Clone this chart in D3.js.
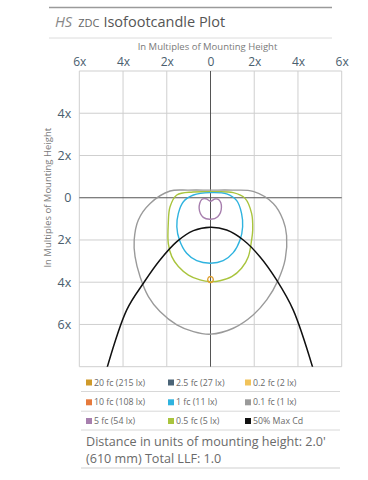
<!DOCTYPE html>
<html><head><meta charset="utf-8">
<script src="https://cdn.jsdelivr.net/npm/d3@7"></script>
<style>body{margin:0;background:#fff}svg{display:block}text{font-family:"Open Sans",sans-serif}</style>
</head><body>
<script>
// ---- data (multiples of mounting height; y negative = below fixture) ----
const xTicks = [-6,-4,-2,0,2,4,6];
const xTickLabels = ["6x","4x","2x","0","2x","4x","6x"];
const yTicks = [4,2,0,-2,-4,-6];
const yTickLabels = ["4x","2x","0","2x","4x","6x"];
const contour01 = [[0,0.36],[1.0,0.36],[1.95,0.3],[2.87,-0.27],[3.32,-1.05],[3.48,-1.8],[3.42,-2.9],[3.1,-3.89],[2.57,-4.84],[1.95,-5.55],[1.04,-6.18],[0,-6.46],[-0.78,-6.34],[-1.54,-6.02],[-2.31,-5.39],[-2.84,-4.68],[-3.22,-3.74],[-3.45,-2.79],[-3.49,-2.0],[-3.3,-1.05],[-2.76,-0.27],[-1.85,0.32],[-1.0,0.36]];
const contour05 = [[0,0.28],[1.04,0.24],[1.58,-0.03],[1.88,-0.74],[1.93,-1.53],[1.88,-2.0],[1.73,-2.79],[1.42,-3.34],[0.97,-3.74],[0.43,-3.93],[0,-3.97],[-0.48,-3.89],[-1.01,-3.66],[-1.47,-3.26],[-1.77,-2.79],[-1.93,-2.16],[-1.93,-1.21],[-1.85,-0.43],[-1.54,0.13],[-0.8,0.27]];
const contour1 = [[0,0.24],[0.74,0.18],[1.2,-0.14],[1.42,-0.74],[1.47,-1.37],[1.35,-2.0],[1.04,-2.6],[0.58,-2.98],[0,-3.1],[-0.63,-2.98],[-1.09,-2.63],[-1.42,-2.0],[-1.54,-1.37],[-1.47,-0.74],[-1.24,-0.19],[-0.78,0.13]];
const contour5 = [[0,-0.17],[0.2,-0.06],[0.38,-0.1],[0.5,-0.45],[0.33,-0.9],[0,-1.02],[-0.33,-0.93],[-0.52,-0.5],[-0.4,-0.08],[-0.2,-0.05]];
const contour10 = [[0,-3.73],[0.11,-3.8],[0.11,-3.95],[0,-4.02],[-0.11,-3.95],[-0.11,-3.8]];
const maxCd50 = [[-4.8,-8.3],[-3.83,-5.31],[-3.07,-4.05],[-2.31,-2.95],[-1.54,-2.08],[-0.78,-1.56],[0,-1.40],[0.74,-1.53],[1.5,-2.0],[2.26,-2.79],[3.02,-3.89],[3.78,-5.31],[4.75,-8.3]];
const legendLabels = ["20 fc (215 lx)","2.5 fc (27 lx)","0.2 fc (2 lx)","10 fc (108 lx)","1 fc (11 lx)","0.1 fc (1 lx)","5 fc (54 lx)","0.5 fc (5 lx)","50% Max Cd"];
const legendColors = ["#cf9a2a","#4b6477","#f1c35a","#e67a3c","#2fb3df","#9a9a9a","#a77fae","#a9c43d","#111111"];

const W=368,H=480;
const svg=d3.select("body").append("svg").attr("width",W).attr("height",H);

// header
svg.append("line").attr("x1",49).attr("x2",332).attr("y1",7.5).attr("y2",7.5).attr("stroke","#9a9a9a").attr("stroke-width",1.5);
svg.append("line").attr("x1",49).attr("x2",332).attr("y1",38).attr("y2",38).attr("stroke","#dcdcdc").attr("stroke-width",1);
const t=svg.append("text").attr("x",55).attr("y",26.5).attr("font-size",14.5).attr("fill","#666");
t.append("tspan").attr("font-style","italic").attr("fill","#888").text("HS");
t.append("tspan").attr("dx",6).attr("font-size",11).attr("fill","#666").text("ZDC");
t.append("tspan").attr("dx",4).attr("fill","#555").text("Isofootcandle Plot");

const x=d3.scaleLinear().domain([-6,6]).range([79.3,341.7]);
const y=d3.scaleLinear().domain([6,-8]).range([71,366.7]);

svg.append("text").attr("x",x(0)-3).attr("y",49.5).attr("text-anchor","middle").attr("font-size",9.5).attr("fill","#7a7a7a").text("In Multiples of Mounting Height");
svg.append("text").attr("transform",`translate(51,${y(0)}) rotate(-90)`).attr("text-anchor","middle").attr("font-size",9.5).attr("fill","#7a7a7a").text("In Multiples of Mounting Height");

const g=svg.append("g");
const gridX=d3.range(-6,7,2), gridY=d3.range(6,-9,-2);
g.selectAll(".gx").data(gridX.filter(d=>d!==0)).join("line").attr("x1",d=>x(d)).attr("x2",d=>x(d)).attr("y1",y(6)).attr("y2",y(-8)).attr("stroke","#cfcfcf");
g.selectAll(".gy").data(gridY.filter(d=>d!==0)).join("line").attr("y1",d=>y(d)).attr("y2",d=>y(d)).attr("x1",x(-6)).attr("x2",x(6)).attr("stroke","#cfcfcf");
g.append("line").attr("x1",x(0)).attr("x2",x(0)).attr("y1",y(6)).attr("y2",y(-8)).attr("stroke","#555").attr("stroke-width",1);
g.append("line").attr("y1",y(0)).attr("y2",y(0)).attr("x1",x(-6)).attr("x2",x(6)).attr("stroke","#555").attr("stroke-width",1.2);

// tick labels via axes
const ax=svg.append("g").attr("transform",`translate(0,${y(6)})`).call(d3.axisTop(x).tickValues(xTicks).tickFormat((d,i)=>xTickLabels[i]).tickSize(0).tickPadding(5));
ax.select(".domain").remove();
ax.selectAll("text").attr("font-size",12).attr("fill","#4a5e6e").attr("font-family","Open Sans");
const ay=svg.append("g").attr("transform",`translate(${x(-6)},0)`).call(d3.axisLeft(y).tickValues(yTicks).tickFormat((d,i)=>yTickLabels[i]).tickSize(0).tickPadding(8));
ay.select(".domain").remove();
ay.selectAll("text").attr("font-size",12.5).attr("fill","#4a5e6e").attr("font-family","Open Sans");

// contours
svg.append("clipPath").attr("id","clip").append("rect").attr("x",x(-6)).attr("y",y(6)).attr("width",x(6)-x(-6)).attr("height",y(-8)-y(6));
const pg=svg.append("g").attr("clip-path","url(#clip)");
const closed=d3.line().x(d=>x(d[0])).y(d=>y(d[1])).curve(d3.curveCatmullRomClosed.alpha(0.5));
const open=d3.line().x(d=>x(d[0])).y(d=>y(d[1])).curve(d3.curveCatmullRom.alpha(0.5));
[[contour01,"#9a9a9a"],[contour05,"#a9c43d"],[contour1,"#2fb3df"],[contour5,"#a77fae"],[contour10,"#e0a030"]].forEach(([d,c])=>{
  pg.append("path").attr("d",closed(d)).attr("fill","none").attr("stroke",c).attr("stroke-width",1.4);
});
pg.append("path").attr("d",open(maxCd50)).attr("fill","none").attr("stroke","#111").attr("stroke-width",1.5);

// legend
const colX=[86,168,245], rowY=[382.5,402.3,421];
[391.5,411.2,430].forEach(yy=>svg.append("line").attr("x1",81).attr("x2",340).attr("y1",yy).attr("y2",yy).attr("stroke","#d8d8d8"));
legendLabels.forEach((l,i)=>{
  const cx=colX[i%3], cy=rowY[Math.floor(i/3)];
  svg.append("rect").attr("x",cx).attr("y",cy-3).attr("width",6).attr("height",6).attr("fill",legendColors[i]);
  svg.append("text").attr("x",cx+8).attr("y",cy).attr("dy","0.35em").attr("font-size",8.8).attr("fill","#6a6a6a").text(l);
});
svg.append("line").attr("x1",81).attr("x2",340).attr("y1",468).attr("y2",468).attr("stroke","#cfcfcf");
svg.append("text").attr("x",86).attr("y",446).attr("font-size",12.6).attr("fill","#6a6a6a").text("Distance in units of mounting height: 2.0'");
svg.append("text").attr("x",86).attr("y",462.5).attr("font-size",12.6).attr("fill","#6a6a6a").text("(610 mm) Total LLF: 1.0");
</script>
</body></html>
